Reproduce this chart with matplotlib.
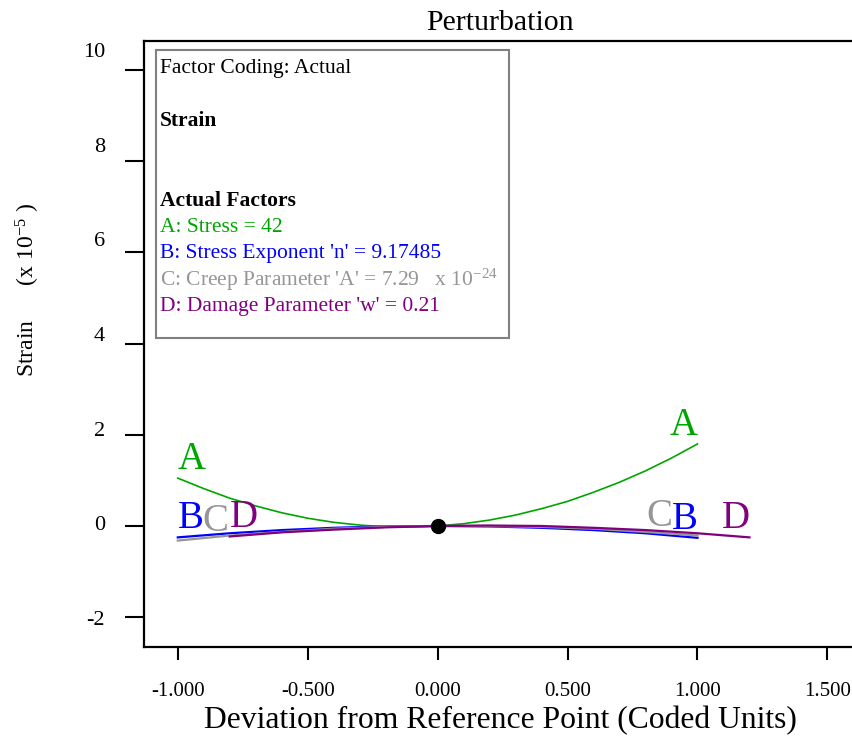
import numpy as np
import matplotlib
matplotlib.use('Agg')
import matplotlib.pyplot as plt
from matplotlib.patches import Rectangle

plt.rcParams['font.family'] = ['Liberation Serif', 'DejaVu Serif']
plt.rcParams['mathtext.fontset'] = 'custom'
plt.rcParams['mathtext.rm'] = 'Liberation Serif'
plt.rcParams['mathtext.it'] = 'Liberation Serif'
plt.rcParams['axes.unicode_minus'] = False

# Perturbation traces (deviation in coded units, strain x 1e-5)
dev_a = [-1.0, -0.9, -0.8, -0.7, -0.6, -0.5, -0.4, -0.3, -0.2, -0.1, 0.0,
         0.1, 0.2, 0.3, 0.4, 0.5, 0.6, 0.7, 0.8, 0.9, 1.0]
strain_a = [1.05, 0.82, 0.61, 0.44, 0.29, 0.17, 0.08, 0.02, -0.02, -0.02, 0.0,
            0.05, 0.13, 0.24, 0.38, 0.54, 0.74, 0.96, 1.21, 1.49, 1.80]
dev_bc = [-1.0, -0.8, -0.6, -0.4, -0.2, 0.0, 0.2, 0.4, 0.6, 0.8, 1.0]
strain_b = [-0.25, -0.16, -0.09, -0.04, -0.01, 0.0, -0.01, -0.04, -0.09, -0.16, -0.26]
strain_c = [-0.32, -0.21, -0.13, -0.06, -0.02, 0.0, 0.0, -0.02, -0.06, -0.13, -0.21]
dev_d = [-0.8, -0.6, -0.4, -0.2, 0.0, 0.2, 0.4, 0.6, 0.8, 1.0, 1.2]
strain_d = [-0.23, -0.14, -0.08, -0.03, 0.0, 0.01, 0.0, -0.04, -0.09, -0.16, -0.25]

factor_names = ['A', 'B', 'C', 'D']
factor_colors = ['#00a600', '#0000ff', '#969696', '#800080']

x_ticks = [-1.0, -0.5, 0.0, 0.5, 1.0, 1.5]
y_ticks = [-2, 0, 2, 4, 6, 8, 10]

legend_lines = [
    ("Factor Coding: Actual", 'black', 'normal', 0),
    ("Strain", 'black', 'bold', 2),
    ("Actual Factors", 'black', 'bold', 5),
    ("A: Stress = 42", factor_colors[0], 'normal', 6),
    ("B: Stress Exponent 'n' = 9.17485", factor_colors[1], 'normal', 7),
    ("C: Creep Parameter 'A' = 7.29   x 10$^{-24}$", factor_colors[2], 'normal', 8),
    ("D: Damage Parameter 'w' = 0.21", factor_colors[3], 'normal', 9),
]

fig = plt.figure(figsize=(8.52, 7.38), dpi=100)
ax = fig.add_axes([144 / 852, 91 / 738, 712 / 852, 606 / 738])

series = [(dev_a, strain_a), (dev_bc, strain_b), (dev_bc, strain_c), (dev_d, strain_d)]
widths = [1.2, 1.6, 1.6, 1.6]
for (xs, ys), col, lw in zip(series, factor_colors, widths):
    ax.plot(xs, ys, color=col, lw=lw)

# curve labels at both ends (C is nudged so it does not sit on B)
left_shift = {'C': 0.095}
right_shift = {'C': -0.095}
for (xs, ys), name, col in zip(series, factor_names, factor_colors):
    ax.text(xs[0] + left_shift.get(name, 0), ys[0] + 0.2, name, color=col,
            fontsize=28, ha='left', va='baseline')
    ax.text(xs[-1] + right_shift.get(name, 0), ys[-1] + 0.2, name, color=col,
            fontsize=28, ha='right', va='baseline')

ax.plot([0], [0], 'o', color='black', ms=10, zorder=5)

ax.set_xlim(-1.13, 1.61)
ax.set_ylim(-2.655, 10.64)
ax.set_xticks(x_ticks)
ax.set_xticklabels([f"{v:.3f}" for v in x_ticks])
ax.set_yticks(y_ticks)
ax.tick_params(axis='x', direction='out', length=9.5, width=1.5, labelsize=15, pad=16)
ax.tick_params(axis='y', direction='out', length=14, width=1.5, labelleft=False)
for s in ax.spines.values():
    s.set_linewidth(1.6)

# y tick labels drift upward a little in the original, so use a secondary scale
sec = ax.secondary_yaxis('left', functions=(lambda y: (y - 0.059) / 1.0384,
                                             lambda v: 1.0384 * v + 0.059))
sec.set_yticks(y_ticks)
sec.tick_params(length=0, labelsize=16, pad=28)
sec.spines['left'].set_visible(False)

ax.set_title("Perturbation", fontsize=21.5, pad=8)
fig.text(500 / 852, 1 - 721 / 738, "Deviation from Reference Point (Coded Units)",
         fontsize=22.8, ha='center', va='center')
fig.text(28 / 852, 1 - 290 / 738, "Strain      (x 10$^{-5}$ )", rotation=90,
         fontsize=17, ha='center', va='center')

# info box
ax.add_patch(Rectangle((0.017, 0.51), 0.496, 0.475, transform=ax.transAxes,
                       facecolor='white', edgecolor='#808080', lw=1.5, zorder=6))
for txt, col, wt, row in legend_lines:
    ax.text(0.0225, 0.955 - row * 0.04373, txt, color=col, fontweight=wt,
            fontsize=15.5, ha='left', va='center', transform=ax.transAxes, zorder=7)

fig.savefig('out.png', dpi=100)
